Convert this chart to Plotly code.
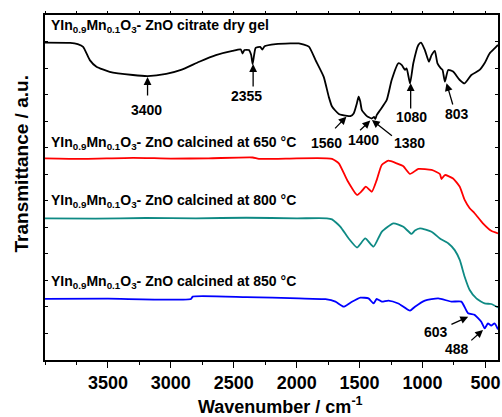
import plotly.graph_objects as go

# ---- data (wavenumber cm^-1, transmittance a.u. with offsets) ----
gel_wn = [4000, 3800, 3740, 3697, 3644, 3591, 3486, 3301, 3183, 3037, 2919, 2774, 2642, 2510, 2444, 2430,
          2415, 2380, 2362, 2350, 2338, 2326, 2290, 2273, 2255, 2167, 2050, 1983, 1903, 1850, 1785, 1745,
          1719, 1665, 1600, 1573, 1547, 1520, 1508, 1495, 1482, 1442, 1403, 1385, 1375, 1364, 1336, 1284,
          1245, 1192, 1166, 1139, 1126, 1099, 1073, 1033, 1012, 981, 949, 928, 902, 881, 854, 841, 822,
          796, 757, 704, 665, 612, 546, 507, 467, 427, 400]
gel_t = [11.96, 11.95, 11.9, 11.8, 11.3, 11.05, 10.86, 10.74, 10.70, 10.78, 10.93, 11.24, 11.49, 11.65, 11.70, 11.55,
         11.68, 11.68, 11.5, 11.15, 11.5, 11.76, 11.80, 11.70, 11.82, 11.9, 11.93, 11.93, 11.81, 11.30, 10.67, 9.92,
         9.55, 9.27, 9.20, 9.19, 9.29, 9.70, 9.92, 9.75, 9.42, 9.19, 9.10, 9.16, 9.08, 9.23, 9.42, 9.80,
         10.55, 11.18, 11.12, 10.93, 10.99, 10.42, 11.18, 11.87, 11.96, 11.68, 11.24, 11.49, 11.65, 11.18, 10.99, 10.93, 10.49,
         10.93, 10.87, 10.55, 10.42, 10.74, 10.93, 11.18, 11.55, 11.74, 11.87]

c650_wn = [4000, 3700, 3300, 3000, 2700, 2350, 2300, 2000, 1760, 1719, 1665, 1599, 1520, 1482, 1450, 1403,
           1364, 1324, 1271, 1205, 1152, 1099, 1033, 928, 862, 849, 822, 757, 704, 665, 625, 586, 520, 454, 400]
c650_t = [7.60, 7.58, 7.62, 7.59, 7.60, 7.63, 7.58, 7.60, 7.60, 7.58, 7.41, 6.78, 6.22, 6.37, 6.53, 6.34,
          6.78, 7.35, 7.51, 7.41, 7.30, 7.01, 7.20, 7.16, 7.01, 6.82, 6.97, 6.84, 6.53, 6.03, 5.72, 5.53, 5.15, 4.87, 4.77]

c800_wn = [4000, 3600, 3200, 2800, 2400, 2000, 1760, 1719, 1652, 1587, 1520, 1455, 1389, 1324, 1231, 1152,
           1087, 1060, 1020, 928, 862, 796, 744, 704, 665, 625, 572, 506, 454, 400]
c800_t = [5.34, 5.33, 5.35, 5.34, 5.36, 5.34, 5.34, 5.30, 5.02, 4.58, 4.24, 4.58, 4.27, 4.83, 5.15, 5.02,
          4.75, 4.88, 4.96, 4.83, 4.58, 4.40, 4.14, 3.77, 3.14, 2.64, 2.32, 2.13, 2.11, 1.98]

c850_wn = [4000, 3500, 2840, 2826, 2400, 1983, 1771, 1692, 1627, 1573, 1494, 1429, 1389, 1364, 1324, 1271,
           1192, 1099, 1060, 981, 875, 770, 691, 638, 586, 533, 506, 480, 454, 427, 400]
c850_t = [2.30, 2.31, 2.30, 2.39, 2.37, 2.32, 2.29, 2.20, 2.01, 2.16, 2.35, 2.32, 2.13, 2.30, 2.20, 2.24,
          2.13, 1.86, 2.01, 2.24, 2.32, 2.20, 2.20, 1.76, 1.70, 1.44, 1.19, 1.38, 1.30, 1.38, 1.15]

x_ticks = [3500, 3000, 2500, 2000, 1500, 1000, 500]

FONT = "Arial, Liberation Sans, sans-serif"

fig = go.Figure()
series = [(gel_wn, gel_t, "black"), (c650_wn, c650_t, "#FF0000"),
          (c800_wn, c800_t, "#0E8A84"), (c850_wn, c850_t, "#0000FF")]
for wn, t, col in series:
    fig.add_trace(go.Scatter(x=wn, y=t, mode="lines", line=dict(color=col, width=1.8, shape="spline", smoothing=0.5),
                             showlegend=False, hoverinfo="skip"))
# invisible trace for the top axis
fig.add_trace(go.Scatter(x=[4000, 400], y=[0, 0], xaxis="x2", mode="lines",
                         line=dict(width=0), showlegend=False, hoverinfo="skip"))

sub = "YIn<sub>0.9</sub>Mn<sub>0.1</sub>O<sub>3</sub>- ZnO "
labels = [(sub + "citrate dry gel", 12.59), (sub + "calcined at 650 °C", 8.17),
          (sub + "calcined at 800 °C", 6.0), (sub + "calcined at 850 °C", 2.95)]
ann = []
for txt, yv in labels:
    ann.append(dict(x=0.009, xref="paper", y=yv, yref="y", text=txt, showarrow=False,
                    xanchor="left", yanchor="middle",
                    font=dict(family=FONT, size=14, color="black", weight="bold")))

peaks = [  # label, text pos, arrow tail, arrow head
    ("3400", (3191, 9.42), (3185, 9.91), (3185, 10.66)),
    ("2355", (2399, 9.96), (2346, 10.25), (2346, 11.15)),
    ("1560", (1761, 8.19), (1706, 8.67), (1605, 9.17)),
    ("1400", (1468, 8.29), (1508, 8.60), (1415, 9.02)),
    ("1380", (1107, 8.17), (1231, 8.41), (1402, 9.04)),
    ("1080", (1086, 9.17), (1094, 9.42), (1094, 10.43)),
    ("803", (722, 9.27), (756, 9.57), (809, 10.43)),
    ("603", (896, 1.07), (782, 1.32), (637, 1.63)),
    ("488", (722, 0.40), (624, 0.69), (519, 1.13)),
]
for lab, (tx, ty), (ax, ay), (hx, hy) in peaks:
    ann.append(dict(x=tx, y=ty, xref="x", yref="y", text=lab, showarrow=False,
                    font=dict(family=FONT, size=14, color="black", weight="bold")))
    ann.append(dict(x=hx, y=hy, ax=ax, ay=ay, xref="x", yref="y", axref="x", ayref="y",
                    text="", showarrow=True, arrowhead=2, arrowsize=1.2, arrowwidth=1.3,
                    arrowcolor="black", standoff=0, startstandoff=0))

ann.append(dict(x=0.519, y=-0.133, xref="paper", yref="paper", text="Wavenumber / cm<sup>-1</sup>",
                showarrow=False, xanchor="center", yanchor="middle",
                font=dict(family=FONT, size=18, color="black", weight="bold")))
ann.append(dict(x=-0.052, y=0.568, xref="paper", yref="paper", text="Transmittance / a.u.",
                showarrow=False, xanchor="center", yanchor="middle", textangle=-90,
                font=dict(family=FONT, size=19, color="black", weight="bold")))

fig.update_layout(
    width=502, height=417,
    margin=dict(l=45, r=2, t=15, b=57),
    paper_bgcolor="white", plot_bgcolor="white",
    font=dict(family=FONT, color="black"),
    xaxis=dict(range=[4000, 400], tickmode="array", tickvals=x_ticks,
               ticks="outside", ticklen=6, tickwidth=1.3, tickcolor="black",
               minor=dict(dtick=250, ticks="outside", ticklen=3, tickwidth=1.2, tickcolor="black"),
               showline=True, linecolor="black", linewidth=1.6, mirror=True,
               showgrid=False, zeroline=False,
               tickfont=dict(family=FONT, size=18, color="black", weight="bold")),
    xaxis2=dict(range=[4000, 400], overlaying="x", side="top", matches="x",
                tickmode="linear", tick0=4000, dtick=250, ticks="outside", ticklen=3,
                tickwidth=1.2, tickcolor="black", showticklabels=False,
                showline=False, showgrid=False, zeroline=False),
    yaxis=dict(range=[0, 13], tickmode="linear", tick0=0, dtick=1, ticks="inside", ticklen=3,
               tickwidth=1.2, tickcolor="black", showticklabels=False,
               showline=True, linecolor="black", linewidth=1.6, mirror="ticks",
               showgrid=False, zeroline=False),
    annotations=ann,
)

fig.write_html("out.html", config={"displayModeBar": False},
               post_script="document.body.style.margin='0px';")
